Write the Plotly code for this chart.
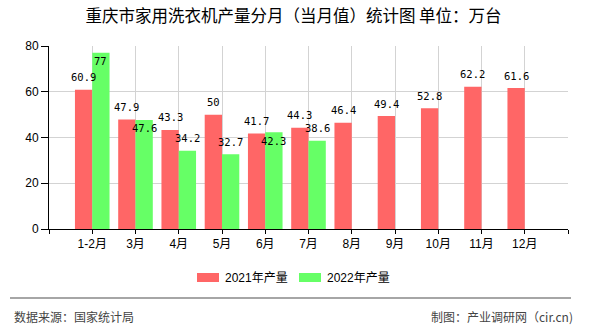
import plotly.graph_objects as go

# Monthly washing-machine output, Chongqing (10k units)
months = ["1-2月", "3月", "4月", "5月", "6月", "7月", "8月", "9月", "10月", "11月", "12月"]
output_2021 = [60.9, 47.9, 43.3, 50, 41.7, 44.3, 46.4, 49.4, 52.8, 62.2, 61.6]
output_2022 = [77, 47.6, 34.2, 32.7, 42.3, 38.6]
series_names = ["2021年产量", "2022年产量"]
y_ticks = [0, 20, 40, 60, 80]

# Styling
RED = "#FF6666"
GREEN = "#66FF66"
W, H = 590, 330
L, R, T, B = 49, 22, 46, 101
label_font = dict(family="DejaVu Sans Mono", size=10.5, color="#000")
# vertical offset (px) of each value label from its bar top
shift_2021 = [12.5] * len(output_2021)
shift_2022 = [-8, -8, 12.5, 12.5, -8.5, 12.5]
half_bar_px = 0.2 * (W - L - R) / 12

x_idx = list(range(len(months)))
fig = go.Figure()
fig.add_bar(x=x_idx, y=output_2021, name=series_names[0], marker=dict(color=RED, line_width=0))
fig.add_bar(x=x_idx[:len(output_2022)], y=output_2022, name=series_names[1],
            marker=dict(color=GREEN, line_width=0))

annotations = []
for i, v in enumerate(output_2021):
    annotations.append(dict(x=i, y=v, xref="x", yref="y", text=f"{v:g}", showarrow=False,
                            xshift=-half_bar_px, yshift=shift_2021[i], yanchor="middle",
                            font=label_font))
for i, v in enumerate(output_2022):
    annotations.append(dict(x=i, y=v, xref="x", yref="y", text=f"{v:g}", showarrow=False,
                            xshift=half_bar_px, yshift=shift_2022[i], yanchor="middle",
                            font=label_font))

pw, ph = W - L - R, H - T - B


def px_x(px):
    return (px - L) / pw


def px_y(py):
    return (H - B - py) / ph


text_font = dict(family="Liberation Sans, Noto Sans CJK SC", size=12, color="#000")
shapes = []
# legend
legend_items = [(197, RED, series_names[0]), (299, GREEN, series_names[1])]
for x0, col, name in legend_items:
    shapes.append(dict(type="rect", xref="paper", yref="paper",
                       x0=px_x(x0), x1=px_x(x0 + 22), y0=px_y(282), y1=px_y(273),
                       fillcolor=col, line_width=0))
    annotations.append(dict(x=px_x(x0 + 26), y=px_y(277.5), xref="paper", yref="paper",
                            text=name, showarrow=False, xanchor="left", yanchor="middle",
                            font=text_font))
# footer
shapes.append(dict(type="line", xref="paper", yref="paper",
                   x0=px_x(10), x1=px_x(571), y0=px_y(298), y1=px_y(298),
                   line=dict(color="#888", width=1.5)))
foot_font = dict(family="Noto Sans CJK SC", size=12, color="#444")
annotations.append(dict(x=px_x(12), y=px_y(316), xref="paper", yref="paper",
                        text="数据来源：国家统计局", showarrow=False, xanchor="left",
                        yanchor="middle", font=foot_font))
annotations.append(dict(x=px_x(575), y=px_y(316), xref="paper", yref="paper",
                        text="制图：产业调研网（cir.cn)", showarrow=False, xanchor="right",
                        yanchor="middle", font=foot_font))

fig.update_layout(
    width=W, height=H,
    margin=dict(l=L, r=R, t=T, b=B, pad=0),
    paper_bgcolor="white", plot_bgcolor="white",
    barmode="group", bargap=0.2, bargroupgap=0,
    showlegend=False,
    title=dict(text="重庆市家用洗衣机产量分月（当月值）统计图 单位：万台",
               x=293.5 / W, xref="container", xanchor="center",
               y=1 - 16 / H, yref="container", yanchor="middle",
               font=dict(family="Noto Sans CJK SC", size=16.5, color="#000")),
    xaxis=dict(range=[-1, 11], tickmode="array",
               tickvals=list(range(-1, 12)),
               ticktext=[""] + months + [""],
               showgrid=True, gridcolor="#D3D3D3", gridwidth=1,
               showline=True, linecolor="#000", linewidth=1,
               ticks="outside", ticklen=4, tickcolor="#000",
               tickfont=text_font, zeroline=False),
    yaxis=dict(range=[0, 80], tickvals=y_ticks,
               showgrid=True, gridcolor="#D3D3D3", gridwidth=1,
               showline=True, linecolor="#000", linewidth=1,
               ticks="outside", ticklen=7, tickcolor="#000",
               tickfont=text_font, zeroline=False),
    annotations=annotations,
    shapes=shapes,
)

fig.write_html("out.html")
